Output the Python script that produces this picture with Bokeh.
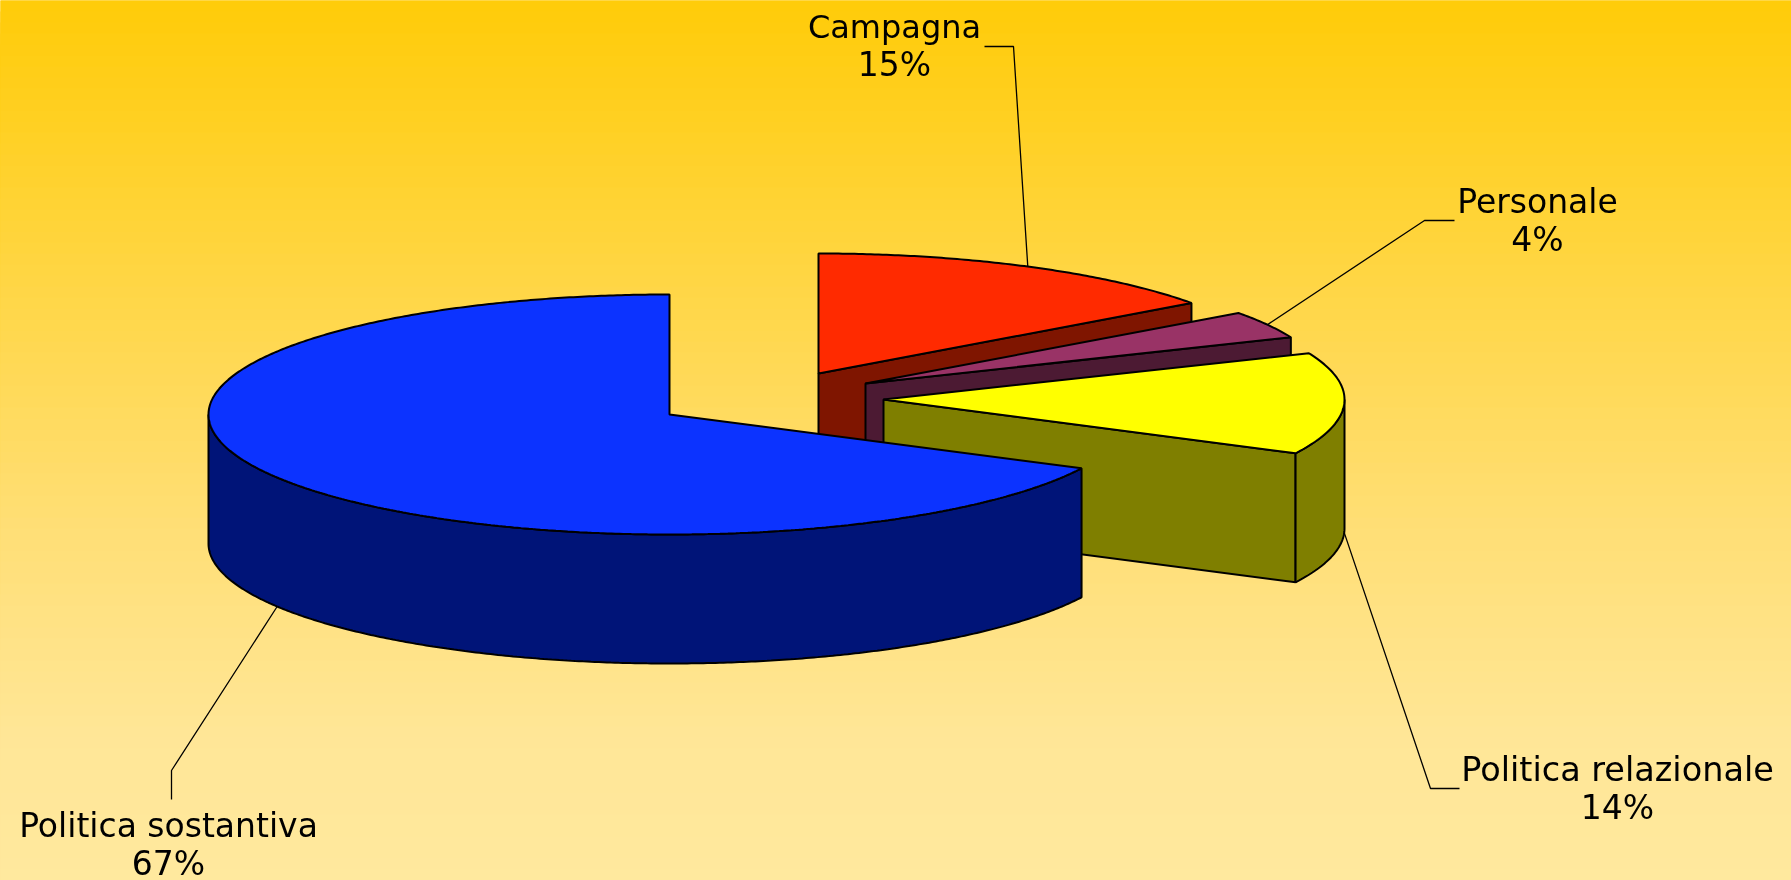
import numpy as np
from bokeh.plotting import figure
from bokeh.embed import file_html
from bokeh.resources import INLINE
from bokeh.core.properties import value

# ---- data ----
categories = ["Campagna", "Personale", "Politica relazionale", "Politica sostantiva"]
shares = [15.0, 3.7, 13.7, 67.6]
share_labels = ["15%", "4%", "14%", "67%"]

# ---- styles and layout ----
W, H = 1791, 880
top_colors = ["#FF2A00", "#993366", "#FFFF00", "#0C33FF"]
side_colors = ["#7F1500", "#4C1A33", "#7F7F00", "#001478"]
explode_x = [149, 196, 214, 0]
explode_y = [-41, -31, -15, 0]
CX, CY, RX, RY, DEPTH = 669, 414, 461, 120, 129
label_x = [894, 1537, 1617, 168]
label_y = [26, 201, 769, 825]
label_size = ["32px", "33px", "33.5px", "33px"]
LINE_GAP = 38
OUT = 2.0

p = figure(width=W, height=H, x_range=(0, W), y_range=(H, 0),
           x_axis_type=None, y_axis_type=None, toolbar_location=None,
           output_backend="svg", min_border=0, outline_line_color=None,
           background_fill_color="#FFCC0A", border_fill_color="#FFCC0A")
p.grid.visible = False
p.styles = {"position": "fixed", "left": "0px", "top": "0px"}

# background: banded vertical gradient
n_bands = 80
stops_t = [0.0, 0.30, 0.60, 0.85, 1.0]
stops_g = [204, 214, 223, 231, 233]
stops_b = [10, 66, 118, 152, 158]
for i in range(n_bands):
    t = i / (n_bands - 1)
    g = int(np.interp(t, stops_t, stops_g))
    b = int(np.interp(t, stops_t, stops_b))
    p.quad(left=-5, right=W + 5, top=round(i * H / n_bands) - (5 if i == 0 else 0),
           bottom=H + 5, fill_color=f"#FF{g:02X}{b:02X}", line_color=None)


def pt(cx, cy, deg, dz=0):
    r = np.radians(deg)
    return cx + RX * np.sin(r), cy - RY * np.cos(r) + dz


def arc(cx, cy, d0, d1, dz=0):
    ds = np.linspace(d0, d1, max(int(abs(d1 - d0)) * 2, 2) + 1)
    xs, ys = pt(cx, cy, ds, dz)
    return list(xs), list(ys)


edges = np.cumsum([0] + shares) * 3.6
anchors = []

for i in range(4):
    cx, cy = CX + explode_x[i], CY + explode_y[i]
    d0, d1 = edges[i], edges[i + 1]
    mid = (d0 + d1) / 2
    # side faces
    if i < 3:
        ex, ey = pt(cx, cy, d1)
        p.patch([cx, ex, ex, cx], [cy, ey, ey + DEPTH, cy + DEPTH],
                fill_color=side_colors[i], line_color="black", line_width=OUT)
    lo, hi = max(d0, 90), min(d1, 270)
    if hi > lo:
        xt, yt = arc(cx, cy, lo, hi)
        xb, yb = arc(cx, cy, lo, hi, DEPTH)
        p.patch(xt + xb[::-1], yt + yb[::-1],
                fill_color=side_colors[i], line_color="black", line_width=OUT)
    # top face
    xt, yt = arc(cx, cy, d0, d1)
    p.patch([cx] + xt, [cy] + yt, fill_color=top_colors[i],
            line_color="black", line_width=OUT)
    ax, ay = pt(cx, cy, mid, DEPTH if 90 <= mid <= 270 else 0)
    anchors.append((ax, ay))

# leader lines: from the slice's edge to the label
elbow_x = [[1013, 984], [1424, 1454], [1430, 1459], [171, 171]]
elbow_y = [[46, 46], [220, 220], [788, 788], [770, 799]]
for i in range(4):
    p.line([anchors[i][0]] + elbow_x[i], [anchors[i][1]] + elbow_y[i],
           line_color="black", line_width=1.3)

# labels
p.text(x=label_x, y=label_y, text=categories, text_font=value("DejaVu Sans"),
       text_font_size=label_size, text_align="center", text_baseline="alphabetic",
       text_color="#000000")
p.text(x=label_x, y=[v + LINE_GAP for v in label_y], text=share_labels,
       text_font=value("DejaVu Sans"), text_font_size="33px", text_align="center",
       text_baseline="alphabetic", text_color="#000000")

open("out.html", "w").write(file_html(p, INLINE))
